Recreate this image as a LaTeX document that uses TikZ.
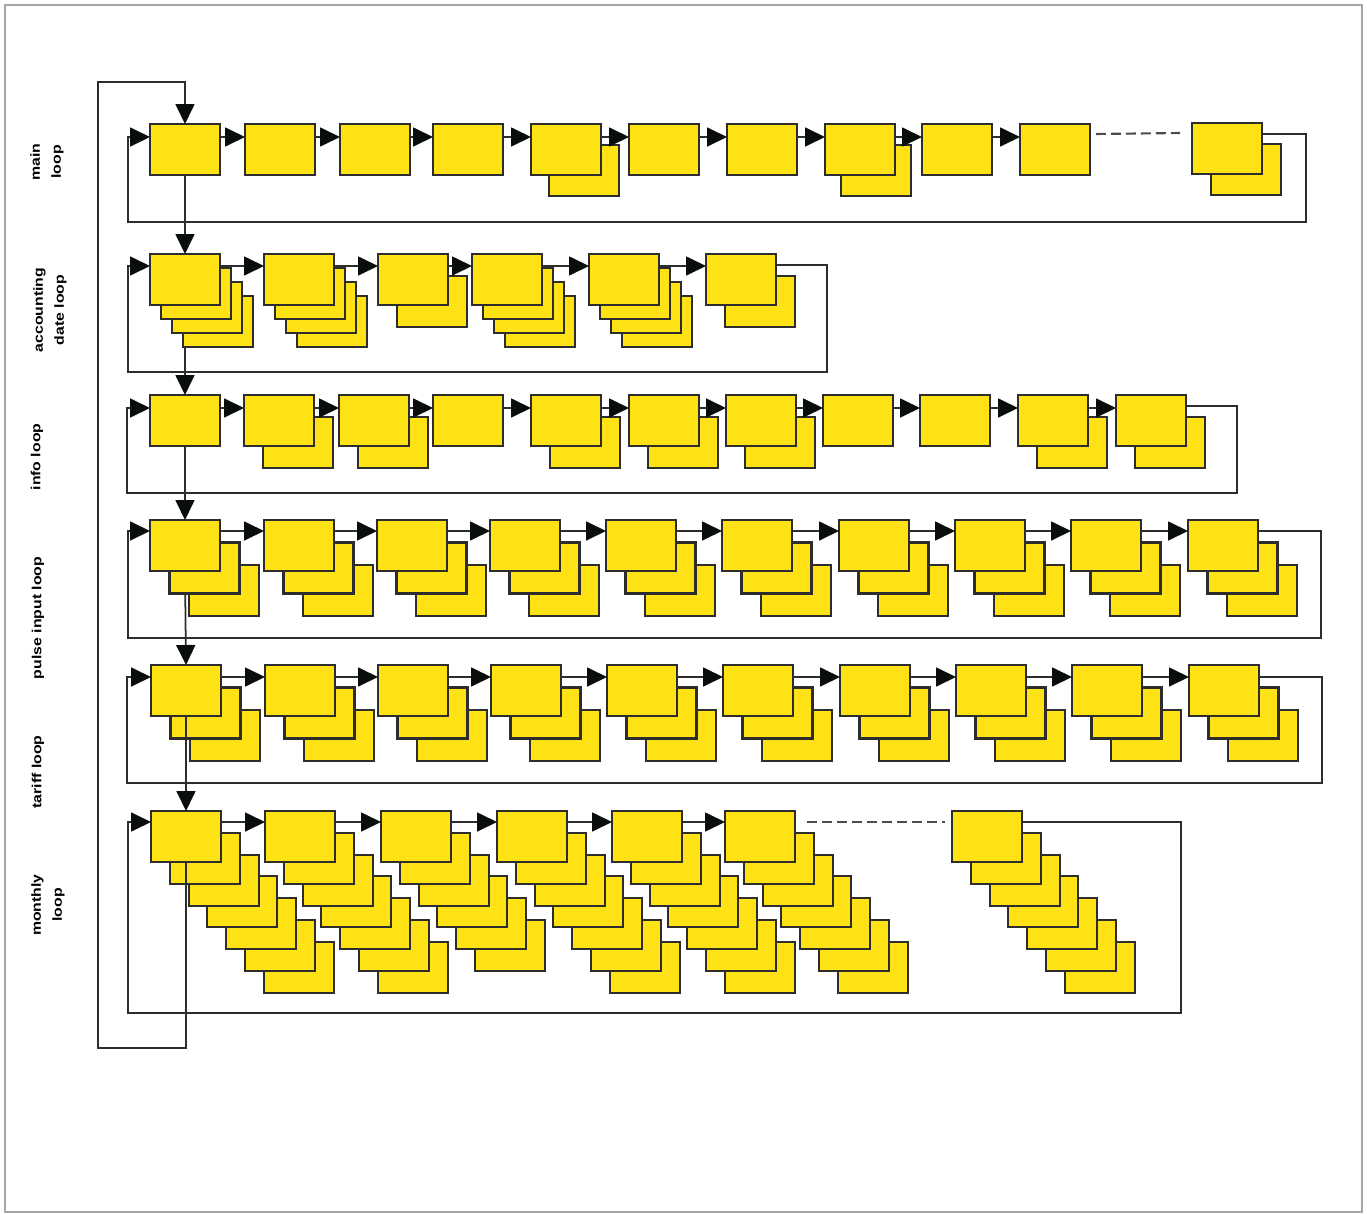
\documentclass[tikz,border=0pt]{standalone}
\usepackage{fontspec}
\setmainfont{Liberation Sans}
\usetikzlibrary{arrows.meta,calc}
\pgfdeclarelayer{bg}
\pgfsetlayers{bg,main}
\definecolor{yel}{RGB}{255,226,20}
\definecolor{edgec}{RGB}{45,45,45}
\definecolor{tipc}{RGB}{10,14,10}
\tikzset{
  box/.style={draw=edgec, fill=yel, line width=1.2pt, minimum width=1.4cm, minimum height=1.02cm, inner sep=0pt, outer sep=0pt, anchor=north west},
  flow/.style={draw=edgec, line width=1pt, -{Triangle[length=0.4cm,width=0.38cm,color=tipc]}},
  dashline/.style={draw=edgec!85, line width=1.2pt, dash pattern=on 0.2cm off 0.1cm},
  lbl/.style={rotate=90, align=center, font=\bfseries\fontsize{7.5}{12}\selectfont, text=black, inner sep=0pt},
  frame/.style={draw=gray!70, line width=0.6pt}
}
\newcommand\stk[6]{%
  \ifnum#4>0
    \foreach \k in {#4,...,1}{\node[box] (#1-\k) at ({#2+\k*#5},{#3+\k*#6}) {};}
  \fi
  \node[box] (#1) at (#2,#3) {};
}
\newcommand\lt[1]{\scalebox{1.2}[1]{#1}}
\begin{document}
\begin{tikzpicture}[x=0.02cm,y=-0.02cm]
\useasboundingbox (0,0) rectangle (1367,1214);
\draw[frame] (5,5) rectangle (1362,1212);

% labels
\node[lbl] (lmain) at (47,162) {\lt{main}\\\lt{loop}};
\node[lbl] (lacc) at (50,310) {\lt{accounting}\\\lt{date loop}};
\node[lbl] (linfo) at (37,457) {\lt{info loop}};
\node[lbl] (lpulse) at (38,618) {\lt{pulse input loop}};
\node[lbl] (ltariff) at (38,772) {\lt{tariff loop}};
\node[lbl] (lmonth) at (48,905) {\lt{monthly}\\\lt{loop}};

% row 1: main loop
\stk{m1}{150}{124}{0}{19}{21}
\stk{m2}{245}{124}{0}{19}{21}
\stk{m3}{340}{124}{0}{19}{21}
\stk{m4}{433}{124}{0}{19}{21}
\stk{m5}{531}{124}{1}{18}{21}
\stk{m6}{629}{124}{0}{19}{21}
\stk{m7}{727}{124}{0}{19}{21}
\stk{m8}{825}{124}{1}{16}{21}
\stk{m9}{922}{124}{0}{19}{21}
\stk{m10}{1020}{124}{0}{19}{21}
\stk{m11}{1192}{123}{1}{19}{21}

% row 2: accounting date loop
\stk{a1}{150}{254}{3}{11}{14}
\stk{a2}{264}{254}{3}{11}{14}
\stk{a3}{378}{254}{1}{19}{22}
\stk{a4}{472}{254}{3}{11}{14}
\stk{a5}{589}{254}{3}{11}{14}
\stk{a6}{706}{254}{1}{19}{22}

% row 3: info loop
\stk{i1}{150}{395}{0}{19}{22}
\stk{i2}{244}{395}{1}{19}{22}
\stk{i3}{339}{395}{1}{19}{22}
\stk{i4}{433}{395}{0}{19}{22}
\stk{i5}{531}{395}{1}{19}{22}
\stk{i6}{629}{395}{1}{19}{22}
\stk{i7}{726}{395}{1}{19}{22}
\stk{i8}{823}{395}{0}{19}{22}
\stk{i9}{920}{395}{0}{19}{22}
\stk{i10}{1018}{395}{1}{19}{22}
\stk{i11}{1116}{395}{1}{19}{22}

% row 4: pulse input loop
\stk{p1}{150}{520}{2}{19.5}{22.5}
\stk{p2}{264}{520}{2}{19.5}{22.5}
\stk{p3}{377}{520}{2}{19.5}{22.5}
\stk{p4}{490}{520}{2}{19.5}{22.5}
\stk{p5}{606}{520}{2}{19.5}{22.5}
\stk{p6}{722}{520}{2}{19.5}{22.5}
\stk{p7}{839}{520}{2}{19.5}{22.5}
\stk{p8}{955}{520}{2}{19.5}{22.5}
\stk{p9}{1071}{520}{2}{19.5}{22.5}
\stk{p10}{1188}{520}{2}{19.5}{22.5}

% row 5: tariff loop
\stk{t1}{151}{665}{2}{19.5}{22.5}
\stk{t2}{265}{665}{2}{19.5}{22.5}
\stk{t3}{378}{665}{2}{19.5}{22.5}
\stk{t4}{491}{665}{2}{19.5}{22.5}
\stk{t5}{607}{665}{2}{19.5}{22.5}
\stk{t6}{723}{665}{2}{19.5}{22.5}
\stk{t7}{840}{665}{2}{19.5}{22.5}
\stk{t8}{956}{665}{2}{19.5}{22.5}
\stk{t9}{1072}{665}{2}{19.5}{22.5}
\stk{t10}{1189}{665}{2}{19.5}{22.5}

% row 6: monthly loop
\stk{o1}{151}{811}{6}{18.8}{21.8}
\stk{o2}{265}{811}{6}{18.8}{21.8}
\stk{o3}{381}{811}{5}{18.8}{21.8}
\stk{o4}{497}{811}{6}{18.8}{21.8}
\stk{o5}{612}{811}{6}{18.8}{21.8}
\stk{o6}{725}{811}{6}{18.8}{21.8}
\stk{o7}{952}{811}{6}{18.8}{21.8}

% arrows within rows
\foreach \a/\b in {m1/m2,m2/m3,m3/m4,m4/m5,m5/m6,m6/m7,m7/m8,m8/m9,m9/m10}
  \draw[flow] ($(\a.north east)+(0,13)$) -- ($(\b.north west)+(0,13)$);
\foreach \a/\b in {a1/a2,a2/a3,a3/a4,a4/a5,a5/a6}
  \draw[flow] ($(\a.north east)+(0,12)$) -- ($(\b.north west)+(0,12)$);
\foreach \a/\b in {i1/i2,i2/i3,i3/i4,i4/i5,i5/i6,i6/i7,i7/i8,i8/i9,i9/i10,i10/i11}
  \draw[flow] ($(\a.north east)+(0,13)$) -- ($(\b.north west)+(0,13)$);
\foreach \a/\b in {p1/p2,p2/p3,p3/p4,p4/p5,p5/p6,p6/p7,p7/p8,p8/p9,p9/p10}
  \draw[flow] ($(\a.north east)+(0,11)$) -- ($(\b.north west)+(0,11)$);
\foreach \a/\b in {t1/t2,t2/t3,t3/t4,t4/t5,t5/t6,t6/t7,t7/t8,t8/t9,t9/t10}
  \draw[flow] ($(\a.north east)+(0,12)$) -- ($(\b.north west)+(0,12)$);
\foreach \a/\b in {o1/o2,o2/o3,o3/o4,o4/o5,o5/o6}
  \draw[flow] ($(\a.north east)+(0,11)$) -- ($(\b.north west)+(0,11)$);

% dashed continuations
\draw[dashline] ($(m10.north east)+(6,10)$) -- ($(m11.north west)+(-12,10)$);
\draw[dashline] ($(o6.north east)+(12,11)$) -- ($(o7.north west)+(-7,11)$);

% loop-back corners
\coordinate (r1R) at (1306,222); \coordinate (r1L) at (128,222);
\coordinate (r2R) at (827,372);  \coordinate (r2L) at (128,372);
\coordinate (r3R) at (1237,493); \coordinate (r3L) at (127,493);
\coordinate (r4R) at (1321,638); \coordinate (r4L) at (128,638);
\coordinate (r5R) at (1322,783); \coordinate (r5L) at (127,783);
\coordinate (r6R) at (1181,1013); \coordinate (r6L) at (128,1013);
\coordinate (oBL) at (98,1048); \coordinate (oTL) at (98,82);

\draw[flow] ($(m11.north east)+(0,11)$) -| (r1R) -- (r1L) |- ($(m1.north west)+(0,13)$);
\draw[flow] ($(a6.north east)+(0,11)$) -| (r2R) -- (r2L) |- ($(a1.north west)+(0,12)$);
\draw[flow] ($(i11.north east)+(0,11)$) -| (r3R) -- (r3L) |- ($(i1.north west)+(0,13)$);
\draw[flow] ($(p10.north east)+(0,11)$) -| (r4R) -- (r4L) |- ($(p1.north west)+(0,11)$);
\draw[flow] ($(t10.north east)+(0,12)$) -| (r5R) -- (r5L) |- ($(t1.north west)+(0,12)$);
\draw[flow] ($(o7.north east)+(0,11)$) -| (r6R) -- (r6L) |- ($(o1.north west)+(0,11)$);

% vertical connectors between loops
\begin{pgfonlayer}{bg}
\draw[flow] (m1.south) -- (a1.north);
\draw[flow] (a1.south) -- (i1.north);
\draw[flow] (i1.south) -- (p1.north);
\draw[flow] (p1.south) -- (t1.north);
\end{pgfonlayer}
\draw[flow] (t1.south) -- (o1.north);
\draw[flow] (o1.south) |- (oBL) -- (oTL) -| (m1.north);
\end{tikzpicture}
\end{document}
